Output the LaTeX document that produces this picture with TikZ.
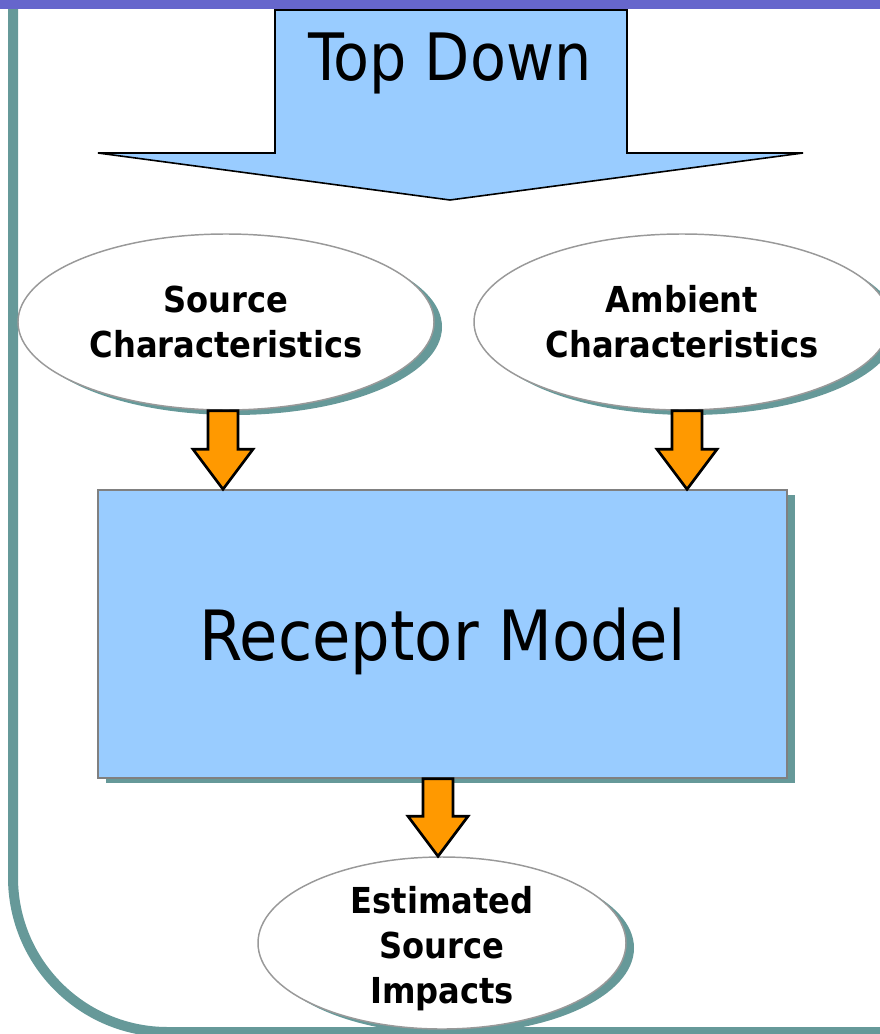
\documentclass[tikz,border=0pt]{standalone}
\usepackage{fontspec}
\newfontfamily\slidefont[BoldFont={DejaVu Sans Condensed Bold}]{DejaVu Sans Condensed}
\usetikzlibrary{shapes.geometric,shadows,calc}

\definecolor{barpurple}{RGB}{102,102,204}
\definecolor{frameteal}{RGB}{102,153,153}
\definecolor{boxblue}{RGB}{153,204,255}
\definecolor{arroworange}{RGB}{255,153,0}
\definecolor{rimgray}{RGB}{153,153,153}
\definecolor{edgegray}{RGB}{128,128,128}

\tikzset{every picture/.style={line width=0.75pt}}
\tikzset{
  oval/.style={ellipse, draw=rimgray, line width=1.1pt, fill=white, inner sep=0pt,
    general shadow={fill=frameteal, draw=none, shadow xshift=6pt, shadow yshift=-3.75pt}},
  ovaltext/.style={font=\slidefont\bfseries\fontsize{26.8}{33.75}\selectfont, align=center},
  modelbox/.style={rectangle, draw=edgegray, line width=1.1pt, fill=boxblue, inner sep=0pt,
    general shadow={fill=frameteal, draw=none, shadow xshift=6pt, shadow yshift=-3.75pt}},
  fatarrow/.style={draw=black, line width=2pt, fill=arroworange, line join=miter,
    to path={let \p1=(\tikztostart), \p2=(\tikztotarget) in
      (\x2-11.25pt,\y1) -- (\x2+11.25pt,\y1) -- (\x2+11.25pt,\y2+30pt) -- (\x2+22.5pt,\y2+30pt)
      -- (\p2) -- (\x2-22.5pt,\y2+30pt) -- (\x2-11.25pt,\y2+30pt) -- cycle}},
}

\begin{document}
\begin{tikzpicture}[x=0.75pt,y=-0.75pt]
		\useasboundingbox (0,0) rectangle (880,1034);
		\clip (0,0) rectangle (880,1034);
		
		%Slide frame and title bar
		\draw [frameteal, line width=7.5pt, rounded corners=116pt] (13,-5) -- (13,1032) -- (950,1032) ;
		\fill [barpurple] (0,0) rectangle (880,9) ;
		
		%Shape: Down Arrow
		\draw [fill=boxblue, line width=1.2pt, line join=miter] (275,10) -- (627,10) -- (627,153) -- (803,153) -- (450,200) -- (98,153) -- (275,153) -- cycle ;
		\node [anchor=base, inner sep=0pt, font=\slidefont\fontsize{49}{58}\selectfont] (topdown) at (450,81) {Top Down};
		
		%Shape: Ellipses
		\node [oval, minimum width=312pt, minimum height=132pt, label={[ovaltext]center:{Source\\Characteristics}}] (src) at (226,322) {};
		\node [oval, minimum width=312pt, minimum height=132pt, label={[ovaltext]center:{Ambient\\Characteristics}}] (amb) at (682,322) {};
		
		%Shape: Rectangle
		\node [modelbox, minimum width=516.75pt, minimum height=216pt] (model) at (442.5,634) {};
		\node [anchor=base, inner sep=0pt, font=\slidefont\fontsize{52}{62}\selectfont] (modeltext) at ([yshift=-19.5pt]model.center) {Receptor Model};
		
		\node [oval, minimum width=276pt, minimum height=129pt, label={[ovaltext, yshift=-4.5pt]center:{Estimated\\Source\\Impacts}}] (est) at (442,943) {};
		
		%Block arrows
		\draw [fatarrow] ([xshift=-2.25pt]src.south) to ([xshift=-2.25pt]src.south |- model.north) ;
		\draw [fatarrow] ([xshift=3.75pt]amb.south) to ([xshift=3.75pt]amb.south |- model.north) ;
		\draw [fatarrow] ([xshift=-3pt]est.north |- model.south) to ([xshift=-3pt]est.north) ;
		
\end{tikzpicture}
\end{document}
